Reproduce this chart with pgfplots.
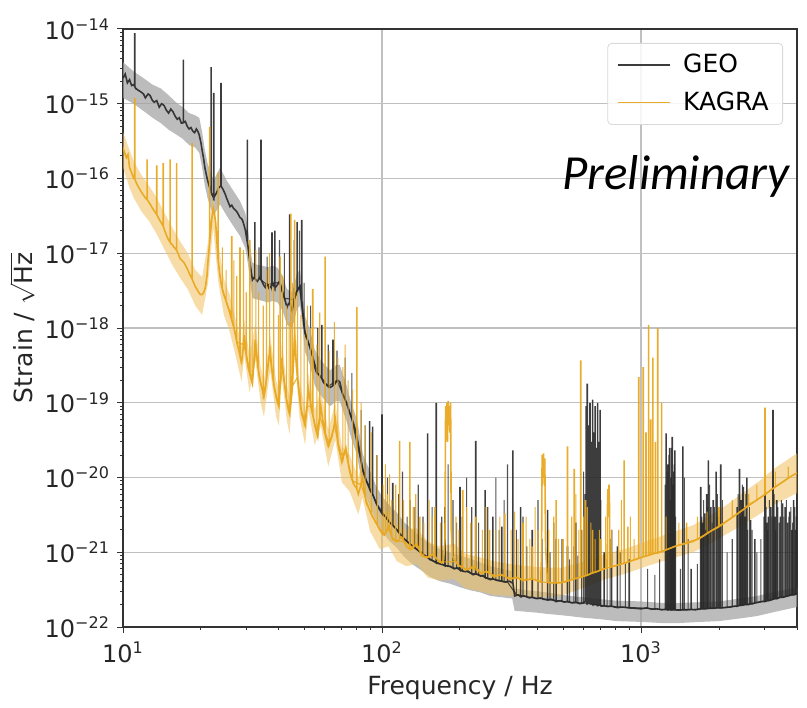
\documentclass[border=0pt]{standalone}
\usepackage{fontspec}
\setmainfont{DejaVu Sans}
\newfontfamily\carlito{Carlito}
\usepackage{pgfplots}
\pgfplotsset{compat=1.18}
\usepackage{pgfplotstable}
\usepgfplotslibrary{fillbetween}
\definecolor{geoline}{RGB}{40,40,40}
\definecolor{geoband}{RGB}{160,160,160}
\definecolor{kagline}{RGB}{232,168,32}
\definecolor{kagband}{RGB}{240,192,95}
\definecolor{gridc}{RGB}{192,192,192}

\pgfplotstableread{
f lo hi
10 1.2e-15 3.6e-15
11 1.0e-15 2.7e-15
12 8e-16 2.2e-15
13 6.5e-16 1.8e-15
14 5.5e-16 1.6e-15
15 4.5e-16 1.3e-15
16 3.9e-16 1.05e-15
17 3.4e-16 9e-16
18 2.8e-16 7.5e-16
19 2.6e-16 7e-16
19.7 2.2e-16 6.5e-16
20.2 1.4e-16 4.2e-16
20.7 8e-17 2.4e-16
21.2 5.5e-17 1.6e-16
21.8 4e-17 1.2e-16
22.4 3.2e-17 9.5e-17
23.7 4.5e-17 1.4e-16
25.1 3.2e-17 9.5e-17
26.7 2.3e-17 6.8e-17
28.3 1.7e-17 5e-17
29.7 1.15e-17 3.4e-17
30.4 7e-18 2e-17
31 4e-18 1.2e-17
31.6 2.5e-18 7.5e-18
33 2.4e-18 7e-18
34.6 2.3e-18 6.8e-18
36.2 2.2e-18 6.5e-18
37.8 2.3e-18 6.8e-18
39.5 2.2e-18 6.4e-18
41.3 1.7e-18 5e-18
43 1.1e-18 3.3e-18
45 1e-18 3e-18
47 1.8e-18 5.4e-18
48.2 2e-18 6e-18
49.2 1.1e-18 3.4e-18
50.4 4.8e-19 1.45e-18
52.7 3.2e-19 9.5e-19
55 1.7e-19 5.1e-19
58 1.25e-19 3.7e-19
63 9e-20 2.7e-19
66.5 1.05e-19 3.2e-19
68.7 1.05e-19 3.2e-19
73 5.6e-20 1.7e-19
76 3.4e-20 1e-19
80 2e-20 6e-20
84.5 7e-21 2e-20
90 4e-21 1.2e-20
95 2.6e-21 7.6e-21
100 1.9e-21 5.6e-21
107 1.4e-21 4.2e-21
114 1.15e-21 3.4e-21
122 8.6e-22 2.5e-21
131 6.9e-22 2e-21
141 5.8e-22 1.6e-21
153 4.7e-22 1.3e-21
167 4.1e-22 1.1e-21
183 3.8e-22 1e-21
200 3.4e-22 9e-22
219 3.1e-22 8.2e-22
240 2.9e-22 7.3e-22
262 2.6e-22 6.5e-22
290 2.5e-22 6e-22
318 2.4e-22 5.6e-22
325 1.65e-22 3.3e-22
360 1.6e-22 3.1e-22
400 1.55e-22 3e-22
432 1.5e-22 2.9e-22
480 1.45e-22 2.75e-22
530 1.4e-22 2.6e-22
600 1.33e-22 2.5e-22
700 1.27e-22 2.35e-22
800 1.2e-22 2.25e-22
1000 1.17e-22 2.2e-22
1200 1.13e-22 2.1e-22
1400 1.13e-22 2.1e-22
1700 1.17e-22 2.15e-22
2000 1.2e-22 2.2e-22
2400 1.3e-22 2.4e-22
2800 1.4e-22 2.6e-22
3300 1.6e-22 2.95e-22
4000 1.85e-22 3.4e-22
}\geoband

\pgfplotstableread{
f lo hi
10 1.4e-16 4.2e-16
10.6 7.5e-17 2.4e-16
11 5.5e-17 1.7e-16
11.8 3.6e-17 1.1e-16
12.6 2.7e-17 8e-17
13.5 1.8e-17 5.5e-17
14.5 1.1e-17 3.4e-17
15.5 7e-18 2.2e-17
16.6 4.7e-18 1.45e-17
17.8 3.3e-18 1e-17
19 2e-18 6e-18
20.2 1.5e-18 4.8e-18
21.3 4e-18 1.4e-17
22.3 2.2e-17 6.5e-17
23.3 4.3e-18 1.4e-17
24.5 1.5e-18 4.6e-18
25.8 9e-19 2.8e-18
27.2 4.3e-19 1.3e-18
28.7 1.9e-19 5.8e-19
29.4 4.3e-19 1.3e-18
30.8 1.35e-19 4.2e-19
32.4 3.8e-19 1.15e-18
34 1e-19 3e-19
35 6.5e-20 2e-19
37 2.7e-19 8e-19
39 6.5e-20 2e-19
40 4.9e-20 1.5e-19
41 2.2e-19 6.5e-19
43 5.5e-20 1.65e-19
44 3.8e-20 1.15e-19
46 4.3e-19 1.3e-18
48 6.5e-20 2e-19
50.5 2.7e-20 8e-20
52 8e-20 2.5e-19
55 2.7e-20 8e-20
58 4.9e-20 1.5e-19
62 1.4e-20 4.3e-20
66 3.2e-20 1e-19
70 8.6e-21 2.6e-20
75 6.5e-21 2e-20
81 3.2e-21 1e-20
84 5.4e-21 1.65e-20
90 1.9e-21 5.8e-21
98 1.1e-21 3.3e-21
106 1.2e-21 3.6e-21
114 7.6e-22 2.3e-21
124 6.5e-22 2e-21
136 7e-22 2.1e-21
150 4.6e-22 1.4e-21
166 4.2e-22 1.2e-21
190 4.4e-22 1.3e-21
210 3.3e-22 9.5e-22
240 3e-22 8.5e-22
270 2.7e-22 7.6e-22
310 2.6e-22 7e-22
350 2.5e-22 6.6e-22
410 2.5e-22 6.3e-22
490 2.6e-22 6.2e-22
580 3.2e-22 7.2e-22
720 4.3e-22 9.3e-22
875 5.2e-22 1.12e-21
1050 6.5e-22 1.4e-21
1350 8.5e-22 1.9e-21
1590 1e-21 2.3e-21
1850 1.3e-21 3.1e-21
2140 1.75e-21 4.3e-21
2500 2.4e-21 6.4e-21
2890 3.3e-21 9.2e-21
3300 4.4e-21 1.35e-20
4000 6.2e-21 2.1e-20
}\kagband

\pgfplotstableread{
f y
10 2.2e-15
10.2 2.5e-15
10.4 1.9e-15
10.6 2.1e-15
10.8 1.75e-15
11.0 1.8e-15
11.1 1.7e-15
11.1 8.8e-15
11.1 1.7e-15
11.2 1.6e-15
11.5 1.5e-15
11.7 1.45e-15
12.0 1.35e-15
12.2 1.2e-15
12.5 1.35e-15
12.7 1.3e-15
13.0 1.1e-15
13.2 1.05e-15
13.5 1.1e-15
13.8 9e-16
14.1 1.0e-15
14.4 9.5e-16
14.7 8.2e-16
15.0 7.5e-16
15.3 8.5e-16
15.6 7.8e-16
15.9 6.8e-16
16.2 6.2e-16
16.5 6.5e-16
16.8 5.5e-16
17.1 5.6e-16
17.1 3.9e-15
17.1 5.6e-16
17.4 5.8e-16
17.7 5e-16
18.0 4.6e-16
18.3 4.8e-16
18.6 4.3e-16
18.9 4.1e-16
19.2 4.6e-16
19.5 4.2e-16
19.7 3.8e-16
20.0 3e-16
20.2 2.4e-16
20.5 1.8e-16
20.7 1.4e-16
21.0 1.1e-16
21.2 9.5e-17
21.5 8e-17
21.8 7e-17
21.9 7e-17
21.9 3.1e-15
21.9 6.5e-17
22.1 6e-17
22.4 5.5e-17
22.4 1.4e-15
22.4 5.5e-17
22.7 6e-17
23.0 6.5e-17
23.4 7.5e-17
23.9 8e-17
23.9 1.9e-15
23.9 8e-17
24.4 7e-17
24.8 6.2e-17
25.1 5.5e-17
25.5 4.8e-17
25.9 4.2e-17
26.3 4.4e-17
26.7 4e-17
27.1 3.8e-17
27.5 3.6e-17
27.9 3.3e-17
28.3 3e-17
28.7 2.9e-17
29.0 2.7e-17
29.4 2.3e-17
29.7 2e-17
30.0 1.6e-17
30.2 1.4e-17
30.2 3.3e-16
30.2 1.4e-17
30.4 1.2e-17
30.7 9e-18
31.0 7e-18
31.3 5.5e-18
31.6 4.4e-18
32.0 4.7e-18
32.3 4.6e-18
32.3 2.6e-17
32.3 4.6e-18
32.6 4.4e-18
33.0 4.2e-18
33.4 4.5e-18
33.8 4.8e-18
34.1 4.5e-18
34.1 3.3e-16
34.1 4.5e-18
34.6 4e-18
35.0 3.7e-18
35.4 3.5e-18
35.8 3.9e-18
36.2 3.8e-18
36.6 3.4e-18
37.0 3.5e-18
37.6 3.8e-18
37.6 1.9e-17
37.6 3.8e-18
37.8 4.1e-18
38.2 3.7e-18
38.6 3.4e-18
38.6 2e-17
38.6 3.4e-18
39.0 3.6e-18
39.5 3.8e-18
40.0 4.1e-18
40.4 4e-18
40.8 3.5e-18
41.3 3e-18
41.7 2.7e-18
42.2 2.4e-18
42.6 2.1e-18
43.0 1.9e-18
43.5 2.1e-18
44.0 2.2e-18
44.0 3.3e-17
44.0 2.2e-18
44.5 1.9e-18
45.0 1.7e-18
45.5 2.1e-18
46.0 2.5e-18
46.5 2.9e-18
47.0 3.2e-18
47.0 2.6e-17
47.0 3.2e-18
47.6 3.4e-18
48.2 3.6e-18
48.7 2.8e-18
49.0 2.4e-18
49.0 2.8e-17
49.0 2.4e-18
49.2 2e-18
49.8 1.3e-18
50.4 8.5e-19
51.0 7.5e-19
51.5 7e-19
52.1 6.2e-19
52.7 5.6e-19
53.3 4.8e-19
54.0 4.2e-19
54.5 3.6e-19
55.0 3e-19
55.5 2.7e-19
56.0 2.5e-19
57.0 2.4e-19
58.0 2.2e-19
58.6 2.1e-19
58.6 1.1e-18
58.6 2.1e-19
59.3 1.9e-19
60.0 1.8e-19
61.5 1.7e-19
63.0 1.6e-19
64.0 1.65e-19
64.7 1.7e-19
64.7 7e-19
64.7 1.7e-19
65.5 1.75e-19
66.5 1.9e-19
67.5 2e-19
68.7 1.9e-19
69.5 1.6e-19
70.5 1.3e-19
71.7 1.15e-19
73.0 1e-19
74.5 8e-20
76.0 6.5e-20
78.0 5e-20
80.0 3.5e-20
82.0 2.2e-20
84.5 1.2e-20
87.0 9e-21
89.6 7e-21
89.6 5.7e-20
89.6 7e-21
92.0 6e-21
92.0 4.8e-20
92.0 6e-21
95.0 4.5e-21
97.5 3.8e-21
100.0 3.3e-21
100.0 7e-20
100.0 3.3e-21
103 3e-21
107 2.5e-21
110 2.3e-21
110 8.5e-21
110 2.3e-21
114 2e-21
118 1.7e-21
122 1.5e-21
126 1.35e-21
128 1.3e-21
128 5e-21
128 1.3e-21
131 1.2e-21
136 1.1e-21
141 1e-21
146 9e-22
150 8.5e-22
150 3.9e-20
150 8.5e-22
153 8e-22
158 7.6e-22
162 7.2e-22
162 1e-19
162 7.2e-22
167 7e-22
172 6.8e-22
175 6.6e-22
175 4e-21
175 6.6e-22
183 6.5e-22
190 6e-22
196 6.2e-22
200 5.8e-22
200 7.5e-21
200 5.8e-22
208 5.5e-22
215 5.6e-22
219 5.3e-22
225 5e-22
230 5.2e-22
230 3.1e-20
230 5.2e-22
240 4.8e-22
245 4.9e-22
250 4.6e-22
250 6.8e-21
250 4.6e-22
262 4.3e-22
268 4.4e-22
268 3e-21
268 4.4e-22
278 4.2e-22
290 4.1e-22
290 2.2e-21
290 4.1e-22
300 4e-22
310 4.1e-22
318 3.9e-22
320 3.9e-22
320 2.3e-20
320 3.9e-22
325 2.6e-22
335 2.7e-22
343 2.55e-22
343 4e-21
343 2.55e-22
355 2.6e-22
370 2.45e-22
380 2.5e-22
380 2e-21
380 2.5e-22
395 2.4e-22
410 2.45e-22
420 2.35e-22
436 2.3e-22
436 3.7e-21
436 2.3e-22
450 2.35e-22
470 2.2e-22
470 1.5e-21
470 2.2e-22
490 2.25e-22
505 2.15e-22
520 2.2e-22
520 1.2e-21
520 2.2e-22
540 2.1e-22
560 2.15e-22
560 2.5e-21
560 2.15e-22
580 2.05e-22
600 2.1e-22
608 2.2e-22
608 6e-21
608 2.2e-22
614 2.2e-22
614 9e-20
614 2.2e-22
620 2.1e-22
620 1.8e-19
620 2.1e-22
627 2.2e-22
627 5e-20
627 2.2e-22
635 2.1e-22
635 1e-19
635 2.1e-22
642 2.1e-22
642 3e-20
642 2.1e-22
650 2e-22
650 1.1e-19
650 2e-22
657 2e-22
657 4e-20
657 2e-22
665 2e-22
665 9e-20
665 2e-22
672 2e-22
672 2.5e-20
672 2e-22
680 1.95e-22
680 1e-19
680 1.95e-22
688 2e-22
688 3e-20
688 2e-22
695 1.95e-22
695 8e-20
695 1.95e-22
705 1.9e-22
720 1.92e-22
720 1e-21
720 1.92e-22
745 1.88e-22
770 1.9e-22
770 2e-21
770 1.9e-22
790 1.85e-22
810 1.82e-22
810 1.2e-21
810 1.82e-22
850 1.85e-22
900 1.8e-22
900 8e-22
900 1.8e-22
950 1.78e-22
1000 1.75e-22
1050 1.8e-22
1100 1.73e-22
1150 1.75e-22
1200 1.7e-22
1250 1.72e-22
1250 3.9e-20
1250 1.72e-22
1270 1.7e-22
1270 1.5e-20
1270 1.7e-22
1290 1.72e-22
1290 2.5e-20
1290 1.72e-22
1305 1.7e-22
1305 1e-20
1305 1.7e-22
1320 1.7e-22
1320 3.5e-20
1320 1.7e-22
1335 1.7e-22
1335 1.2e-20
1335 1.7e-22
1350 1.7e-22
1350 2.3e-20
1350 1.7e-22
1400 1.68e-22
1450 1.7e-22
1450 2.6e-20
1450 1.7e-22
1500 1.7e-22
1560 1.72e-22
1560 6e-22
1560 1.72e-22
1620 1.7e-22
1700 1.75e-22
1700 7.5e-21
1700 1.75e-22
1730 1.75e-22
1730 2.5e-21
1730 1.75e-22
1760 1.75e-22
1760 3.3e-21
1760 1.75e-22
1790 1.76e-22
1790 6e-21
1790 1.76e-22
1820 1.77e-22
1820 1.7e-20
1820 1.77e-22
1860 1.78e-22
1860 4e-21
1860 1.78e-22
1900 1.78e-22
1900 5e-21
1900 1.78e-22
1950 1.8e-22
1950 1.2e-20
1950 1.8e-22
1990 1.8e-22
1990 3e-21
1990 1.8e-22
2030 1.8e-22
2030 1.5e-20
2030 1.8e-22
2100 1.82e-22
2200 1.85e-22
2300 1.9e-22
2350 1.9e-22
2350 4e-21
2350 1.9e-22
2400 1.95e-22
2400 1.3e-20
2400 1.95e-22
2440 1.95e-22
2440 5e-21
2440 1.95e-22
2480 1.97e-22
2480 7.5e-21
2480 1.97e-22
2520 2e-22
2520 3e-21
2520 2e-22
2560 2e-22
2560 1e-20
2560 2e-22
2600 2e-22
2650 2.05e-22
2650 2.7e-21
2650 2.05e-22
2700 2.05e-22
2750 2.1e-22
2750 1.5e-21
2750 2.1e-22
2850 2.15e-22
2950 2.2e-22
3010 2.2e-22
3010 6e-21
3010 2.2e-22
3060 2.25e-22
3060 2.5e-21
3060 2.25e-22
3100 2.25e-22
3100 3e-21
3100 2.25e-22
3170 2.3e-22
3170 4e-21
3170 2.3e-22
3230 2.35e-22
3230 8e-20
3230 2.35e-22
3290 2.4e-22
3290 3e-21
3290 2.4e-22
3340 2.4e-22
3340 5e-21
3340 2.4e-22
3400 2.45e-22
3450 2.5e-22
3450 3e-21
3450 2.5e-22
3520 2.5e-22
3520 4.5e-21
3520 2.5e-22
3600 2.55e-22
3600 4e-21
3600 2.55e-22
3680 2.6e-22
3680 2.5e-21
3680 2.6e-22
3750 2.65e-22
3750 3.5e-21
3750 2.65e-22
3820 2.7e-22
3820 2e-21
3820 2.7e-22
3880 2.7e-22
3880 5e-21
3880 2.7e-22
3950 2.75e-22
3950 2e-21
3950 2.75e-22
4000 2.8e-22
}\geoline

\pgfplotstableread{
f y
10 2.6e-16
10.15 2.2e-16
10.3 1.9e-16
10.45 2.1e-16
10.6 1.4e-16
10.8 1.2e-16
11.0 1.0e-16
11.1 1e-16
11.1 1.2e-15
11.1 1e-16
11.25 8.8e-17
11.4 8e-17
11.6 7.2e-17
11.8 6.5e-17
12.0 6e-17
12.2 5.5e-17
12.4 5.2e-17
12.4 1.8e-16
12.4 5.2e-17
12.6 4.8e-17
12.8 4.4e-17
13.0 4e-17
13.25 3.6e-17
13.5 3.3e-17
13.5 1.5e-16
13.5 3.3e-17
13.75 2.9e-17
14.0 2.6e-17
14.3 2.3e-17
14.3 1.6e-16
14.3 2.3e-17
14.5 2e-17
14.75 1.7e-17
15.0 1.5e-17
15.2 1.4e-17
15.2 1.8e-16
15.2 1.4e-17
15.5 1.3e-17
15.75 1.2e-17
16.1 1.1e-17
16.1 1.6e-16
16.1 1.1e-17
16.3 1e-17
16.6 8.5e-18
16.9 8e-18
17.2 7.5e-18
17.5 6.7e-18
17.8 6e-18
18.1 5.2e-18
18.5 4.5e-18
18.5 3e-16
18.5 4.5e-18
18.7 4.1e-18
19.0 3.6e-18
19.3 3.3e-18
19.6 3e-18
19.9 2.8e-18
20.2 2.8e-18
20.5 3e-18
20.8 3.5e-18
21.1 5e-18
21.3 8e-18
21.6 1.4e-17
21.6 4.9e-16
21.6 1.4e-17
21.8 2e-17
22.05 3e-17
22.3 4e-17
22.55 3.4e-17
22.8 2.5e-17
23.05 1.4e-17
23.3 8e-18
23.3 1.2e-16
23.3 8e-18
23.6 5.5e-18
23.9 4e-18
24.2 3.3e-18
24.5 2.8e-18
24.8 2.5e-18
25.1 2.2e-18
25.45 1.9e-18
25.8 1.7e-18
26.15 1.4e-18
26.3 1.3e-18
26.3 1.7e-17
26.3 1.3e-18
26.5 1.2e-18
26.85 1e-18
27.2 8e-19
27.6 6.2e-19
28.0 5e-19
28.3 4.2e-19
28.3 1.2e-17
28.3 4.2e-19
28.7 3.5e-19
29.05 5e-19
29.4 8e-19
29.7 5.5e-19
30.0 4e-19
30.4 3e-19
30.8 2.5e-19
30.9 2.4e-19
30.9 1.5e-17
30.9 2.4e-19
31.2 2.1e-19
31.6 1.8e-19
32.0 3.5e-19
32.4 7e-19
32.8 4.5e-19
33.2 3e-19
33.6 2.2e-19
34.0 1.8e-19
34.5 1.5e-19
35.0 1.2e-19
35.5 1.6e-19
36.0 2.5e-19
36.5 3.8e-19
37.0 5e-19
37.5 3e-19
38.0 2e-19
38.5 1.5e-19
39.0 1.2e-19
39.5 1e-19
40.0 9e-20
40.4 2e-19
40.4 9e-18
40.4 2e-19
41.0 4e-19
41.5 2.6e-19
42.0 1.8e-19
42.5 1.3e-19
43.0 1e-19
43.5 8e-20
44.0 7e-20
44.5 1e-19
44.5 3.4e-17
44.5 1e-19
45.0 1.5e-19
45.5 3.5e-19
46.0 8e-19
46.0 2.8e-17
46.0 8e-19
46.5 4e-19
47.0 2.5e-19
47.5 1.7e-19
48.0 1.2e-19
48.5 9e-20
49.0 7e-20
49.7 6e-20
50.5 5e-20
51.2 8e-20
52.0 1.5e-19
52.7 1.1e-19
53.5 8e-20
54.0 7e-20
54.0 3.3e-18
54.0 7e-20
54.5 6e-20
55.0 5e-20
55.7 4.2e-20
56.5 3.5e-20
57.2 5.5e-20
58.0 9e-20
59.0 6e-20
60.0 4e-20
60.3 3.8e-20
60.3 9e-18
60.3 3.8e-20
61.0 3.2e-20
62.0 2.6e-20
63.0 3e-20
64.0 3.5e-20
65.0 4.5e-20
66.0 6e-20
67.0 3.8e-20
68.0 2.5e-20
69.0 2e-20
70.0 1.6e-20
71.2 2e-20
72.5 2.5e-20
73.7 1.7e-20
75.0 1.2e-20
76.5 9.5e-21
78.0 8e-21
80.0 7e-21
80.0 1.9e-18
80.0 7e-21
81.0 6e-21
82.5 7.5e-21
84.0 1e-20
85.5 6.5e-21
87.0 4.5e-21
88.5 4e-21
90.0 3.5e-21
92.0 3e-21
94.0 2.6e-21
96.0 2.3e-21
98.0 2e-21
100.0 1.8e-21
102.0 1.7e-21
104 1.9e-21
106 2.2e-21
108 1.8e-21
110 1.5e-21
112 1.45e-21
114 1.4e-21
117 1.5e-21
117 3.1e-20
117 1.5e-21
119 1.6e-21
121.5 1.4e-21
124 1.2e-21
126 1.15e-21
128 1.1e-21
128 3e-20
128 1.1e-21
130 1.1e-21
133 1.2e-21
136 1.3e-21
139 1.1e-21
140 1.05e-21
140 3e-21
140 1.05e-21
142 9e-22
146 8.7e-22
150 8.5e-22
154 9e-22
158 9.5e-22
160 9e-22
160 4e-21
160 9e-22
162 8.3e-22
166 7.5e-22
170 7.2e-22
173 8e-22
175 1.5e-21
176 9e-20
177 4e-20
178 1e-19
179 3e-20
180 1.06e-19
181 5e-20
182 9e-20
183 4e-20
184 1e-19
185 2e-21
187 9e-22
190 8e-22
195 7e-22
200 6.5e-22
205 6.2e-22
205 6.8e-21
205 6.2e-22
210 5.8e-22
217 6e-22
225 6.5e-22
230 6.2e-22
230 3e-21
230 6.2e-22
235 5.8e-22
240 5.2e-22
247 5.4e-22
255 5.5e-22
260 5.3e-22
260 2e-21
260 5.3e-22
265 5e-22
270 4.7e-22
280 4.9e-22
290 5e-22
298 4.8e-22
298 3.3e-21
298 4.8e-22
304 4.6e-22
310 4.4e-22
320 4.5e-22
330 4.6e-22
340 4.4e-22
350 4.2e-22
350 2.5e-21
350 4.2e-22
365 4.3e-22
380 4.4e-22
380 1.2e-21
380 4.4e-22
395 4.2e-22
410 4e-22
413 1e-21
415 2e-20
417 8e-21
420 2.1e-20
422 1e-20
425 1.8e-20
428 1.2e-21
435 4e-22
450 3.9e-22
470 3.9e-22
470 5e-21
470 3.9e-22
490 3.9e-22
500 3.95e-22
500 1.5e-21
500 3.95e-22
510 4e-22
520 4.1e-22
520 2.6e-20
520 4.1e-22
530 4.2e-22
552 4.4e-22
552 1.3e-20
552 4.4e-22
565 4.5e-22
580 4.6e-22
585 4.65e-22
585 3.7e-19
585 4.65e-22
595 4.7e-22
610 4.85e-22
610 5e-21
610 4.85e-22
630 5.05e-22
650 5.3e-22
650 2e-21
650 5.3e-22
675 5.5e-22
700 5.8e-22
700 1.5e-21
700 5.8e-22
720 6e-22
740 6.2e-22
742 4e-21
745 7e-21
748 3e-21
752 8e-21
755 5e-21
758 6.3e-22
780 6.5e-22
800 6.6e-22
830 6.9e-22
860 7.1e-22
860 1.7e-20
860 7.1e-22
875 7.2e-22
890 7.4e-22
890 2.2e-21
890 7.4e-22
920 7.7e-22
950 8e-22
980 8.3e-22
980 2.2e-19
980 8.3e-22
1000 8.5e-22
1020 8.7e-22
1020 3e-19
1020 8.7e-22
1045 8.9e-22
1045 4e-20
1045 8.9e-22
1070 9.1e-22
1070 1.1e-18
1070 9.1e-22
1090 9.3e-22
1090 6e-20
1090 9.3e-22
1110 9.5e-22
1110 4e-19
1110 9.5e-22
1135 9.7e-22
1135 3e-20
1135 9.7e-22
1160 9.8e-22
1160 1e-18
1160 9.8e-22
1180 1e-21
1200 1.02e-21
1200 1e-19
1200 1.02e-21
1270 1.1e-21
1350 1.2e-21
1450 1.28e-21
1500 1.32e-21
1500 2.5e-21
1500 1.32e-21
1590 1.4e-21
1720 1.6e-21
1850 1.9e-21
2000 2.2e-21
2000 4e-21
2000 2.2e-21
2140 2.6e-21
2300 3.1e-21
2500 3.8e-21
2600 4.3e-21
2600 6e-21
2600 4.3e-21
2750 4.8e-21
2890 5.4e-21
3010 5.9e-21
3010 8.6e-20
3010 5.9e-21
3150 6.7e-21
3300 7.5e-21
3500 8.6e-21
3700 9.8e-21
3900 1.1e-20
4000 1.15e-20
}\kagline

\begin{document}
\begin{tikzpicture}
\begin{axis}[
  name=ax,
  xmode=log, ymode=log,
  scale only axis, width=337pt, height=299pt,
  xmin=10, xmax=4000, ymin=1e-22, ymax=1e-14,
  axis line style={color=black!80, line width=0.6pt},
  tick pos=left, tick align=outside,
  major tick length=3pt, minor tick length=1.6pt,
  tick style={color=black!80, line width=0.5pt},
  xtick={10,100,1000},
  xticklabels={10\textsuperscript{1},10\textsuperscript{2},10\textsuperscript{3}},
  minor xtick={20,30,40,50,60,70,80,90,200,300,400,500,600,700,800,900,2000,3000,4000},
  ytick={1e-22,1e-21,1e-20,1e-19,1e-18,1e-17,1e-16,1e-15,1e-14},
  yticklabels={10\textsuperscript{−22},10\textsuperscript{−21},10\textsuperscript{−20},10\textsuperscript{−19},10\textsuperscript{−18},10\textsuperscript{−17},10\textsuperscript{−16},10\textsuperscript{−15},10\textsuperscript{−14}},
  minor ytick={2e-22,3e-22,4e-22,5e-22,6e-22,7e-22,8e-22,9e-22,
    2e-21,3e-21,4e-21,5e-21,6e-21,7e-21,8e-21,9e-21,
    2e-20,3e-20,4e-20,5e-20,6e-20,7e-20,8e-20,9e-20,
    2e-19,3e-19,4e-19,5e-19,6e-19,7e-19,8e-19,9e-19,
    2e-18,3e-18,4e-18,5e-18,6e-18,7e-18,8e-18,9e-18,
    2e-17,3e-17,4e-17,5e-17,6e-17,7e-17,8e-17,9e-17,
    2e-16,3e-16,4e-16,5e-16,6e-16,7e-16,8e-16,9e-16,
    2e-15,3e-15,4e-15,5e-15,6e-15,7e-15,8e-15,9e-15},
  xmajorgrids, ymajorgrids,
  major grid style={color=gridc, line width=0.7pt},
  ticklabel style={font=\fontsize{12}{14}\selectfont, text=black!85},
  xticklabel style={yshift=-1pt},
  xlabel={Frequency / Hz},
  ylabel={Strain / $\sqrt{\hbox{Hz}}$},
  ylabel shift=1.2pt,
  ylabel style={inner sep=0pt},
  label style={font=\fontsize{12.5}{15}\selectfont, text=black!85},
  legend style={at={(1,1)}, anchor=north east, xshift=-7pt, yshift=-7pt,
    draw=black!15, rounded corners=2pt, fill=white, fill opacity=0.85, text opacity=1,
    font=\fontsize{12.5}{14}\selectfont, inner xsep=5pt, inner ysep=3.5pt, row sep=4pt,
    /tikz/every odd column/.append style={column sep=4pt}},
  legend cell align=left,
  legend image code/.code={\draw[#1, line width=0.7pt] (0pt,0pt) -- (26pt,0pt);},
]
\addplot[name path=gu, draw=none, forget plot] table[x=f, y=hi]{\geoband};
\addplot[name path=gl, draw=none, forget plot] table[x=f, y=lo]{\geoband};
\addplot[geoband, fill opacity=0.7, draw=none, forget plot] fill between[of=gu and gl];
\addplot[name path=ku, draw=none, forget plot] table[x=f, y=hi]{\kagband};
\addplot[name path=kl, draw=none, forget plot] table[x=f, y=lo]{\kagband};
\addplot[kagband, fill opacity=0.55, draw=none, forget plot] fill between[of=ku and kl];
% extra GEO line features (narrow lines)
\addplot[geoline, line width=0.55pt, opacity=0.8, forget plot] coordinates {
(33.5,4.6e-18)(33.5,1.2e-17)(33.5,4.6e-18) (36,3.8e-18)(36,9e-18)(36,3.8e-18)
(40.2,4.1e-18)(40.2,1.5e-17)(40.2,4.1e-18) (42,2.5e-18)(42,1e-17)(42,2.5e-18)
(45.8,2.4e-18)(45.8,1.5e-17)(45.8,2.4e-18) (48,3.6e-18)(48,2e-17)(48,3.6e-18)
(50,1e-18)(50,4e-18)(50,1e-18) (53,5e-19)(53,2e-18)(53,5e-19)
(56.5,2.5e-19)(56.5,1e-18)(56.5,2.5e-19) (62,1.65e-19)(62,6e-19)(62,1.65e-19)
(67,2e-19)(67,5e-19)(67,2e-19) (72,1.1e-19)(72,4e-19)(72,1.1e-19)
(76.5,6e-20)(76.5,2.5e-19)(76.5,6e-20) (83,1.6e-20)(83,8e-20)(83,1.6e-20)
(86,1e-20)(86,5e-20)(86,1e-20) (95.5,4.4e-21)(95.5,2e-20)(95.5,4.4e-21)
(105,2.7e-21)(105,1e-20)(105,2.7e-21) (116,1.9e-21)(116,6e-21)(116,1.9e-21)
(120,1.6e-21)(120,1.2e-20)(120,1.6e-21) (125,1.4e-21)(125,3e-21)(125,1.4e-21)
(134,1.15e-21)(134,4e-21)(134,1.15e-21) (138,1.05e-21)(138,8e-21)(138,1.05e-21)
(144,9.5e-22)(144,3e-21)(144,9.5e-22) (156,7.8e-22)(156,4e-21)(156,7.8e-22)
(170,6.9e-22)(170,3e-21)(170,6.9e-22) (180,6.5e-22)(180,1.5e-20)(180,6.5e-22)
(188,6.2e-22)(188,5e-21)(188,6.2e-22) (194,6.1e-22)(194,2.5e-21)(194,6.1e-22)
(204,5.6e-22)(204,3e-21)(204,5.6e-22) (212,5.5e-22)(212,1e-20)(212,5.5e-22)
(222,5.2e-22)(222,4e-21)(222,5.2e-22) (236,5e-22)(236,2.5e-21)(236,5e-22)
(256,4.5e-22)(256,4e-21)(256,4.5e-22) (275,4.3e-22)(275,1e-20)(275,4.3e-22)
(283,4.2e-22)(283,2e-21)(283,4.2e-22) (296,4e-22)(296,5e-21)(296,4e-22)
(305,4e-22)(305,1.5e-20)(305,4e-22) (330,2.7e-22)(330,2e-21)(330,2.7e-22)
(350,2.6e-22)(350,3e-21)(350,2.6e-22) (362,2.55e-22)(362,1.2e-21)(362,2.55e-22)
(400,2.4e-22)(400,5e-21)(400,2.4e-22) (415,2.4e-22)(415,1.5e-21)(415,2.4e-22)
(445,2.3e-22)(445,1e-21)(445,2.3e-22) (460,2.3e-22)(460,2.5e-21)(460,2.3e-22)
(495,2.2e-22)(495,1.5e-21)(495,2.2e-22) (530,2.15e-22)(530,8e-22)(530,2.15e-22)
(550,2.1e-22)(550,1.2e-21)(550,2.1e-22) (570,2.1e-22)(570,9e-22)(570,2.1e-22)
(590,2.1e-22)(590,2e-21)(590,2.1e-22) (600,2.1e-22)(600,1.2e-20)(600,2.1e-22)
(700,1.95e-22)(700,5e-21)(700,1.95e-22) (740,1.9e-22)(740,8e-22)(740,1.9e-22)
(760,1.9e-22)(760,1.5e-21)(760,1.9e-22) (830,1.84e-22)(830,1e-21)(830,1.84e-22)
(870,1.83e-22)(870,7e-22)(870,1.83e-22) (1060,1.78e-22)(1060,6e-22)(1060,1.78e-22)
(1130,1.74e-22)(1130,5e-22)(1130,1.74e-22) (1180,1.72e-22)(1180,8e-22)(1180,1.72e-22)
(1240,1.72e-22)(1240,8e-21)(1240,1.72e-22) (1260,1.7e-22)(1260,1.2e-20)(1260,1.7e-22)
(1280,1.7e-22)(1280,2e-20)(1280,1.7e-22) (1298,1.7e-22)(1298,5e-21)(1298,1.7e-22)
(1312,1.7e-22)(1312,2.5e-20)(1312,1.7e-22) (1328,1.7e-22)(1328,8e-21)(1328,1.7e-22)
(1343,1.7e-22)(1343,1.5e-20)(1343,1.7e-22) (1360,1.7e-22)(1360,3e-21)(1360,1.7e-22)
(1420,1.7e-22)(1420,6e-22)(1420,1.7e-22) (1470,1.7e-22)(1470,1e-20)(1470,1.7e-22)
(1520,1.7e-22)(1520,1.5e-21)(1520,1.7e-22) (1650,1.72e-22)(1650,7e-22)(1650,1.72e-22)
(1715,1.75e-22)(1715,3e-21)(1715,1.75e-22) (1745,1.75e-22)(1745,5e-21)(1745,1.75e-22)
(1775,1.76e-22)(1775,2e-21)(1775,1.76e-22) (1805,1.77e-22)(1805,4e-21)(1805,1.77e-22)
(1840,1.78e-22)(1840,8e-21)(1840,1.78e-22) (1880,1.78e-22)(1880,2.5e-21)(1880,1.78e-22)
(1920,1.79e-22)(1920,4e-21)(1920,1.79e-22) (1970,1.8e-22)(1970,6e-21)(1970,1.8e-22)
(2010,1.8e-22)(2010,3e-21)(2010,1.8e-22) (2060,1.81e-22)(2060,5e-21)(2060,1.81e-22)
(2150,1.83e-22)(2150,1e-21)(2150,1.83e-22) (2250,1.87e-22)(2250,1.5e-21)(2250,1.87e-22)
(2370,1.92e-22)(2370,6e-21)(2370,1.92e-22) (2420,1.95e-22)(2420,3e-21)(2420,1.95e-22)
(2460,1.96e-22)(2460,8e-21)(2460,1.96e-22) (2500,1.98e-22)(2500,4e-21)(2500,1.98e-22)
(2540,2e-22)(2540,6e-21)(2540,2e-22) (2580,2e-22)(2580,2e-21)(2580,2e-22)
(2620,2.02e-22)(2620,4e-21)(2620,2.02e-22) (2680,2.05e-22)(2680,2e-21)(2680,2.05e-22)
(2800,2.12e-22)(2800,1e-21)(2800,2.12e-22) (2900,2.18e-22)(2900,1.5e-21)(2900,2.18e-22)
(2980,2.2e-22)(2980,3e-21)(2980,2.2e-22) (3040,2.22e-22)(3040,4e-21)(3040,2.22e-22)
(3080,2.25e-22)(3080,2e-21)(3080,2.25e-22) (3130,2.28e-22)(3130,5e-21)(3130,2.28e-22)
(3200,2.32e-22)(3200,3e-21)(3200,2.32e-22) (3260,2.38e-22)(3260,6e-21)(3260,2.38e-22)
(3310,2.4e-22)(3310,2e-21)(3310,2.4e-22) (3370,2.42e-22)(3370,4e-21)(3370,2.42e-22)
(3420,2.48e-22)(3420,2.5e-21)(3420,2.48e-22) (3480,2.5e-22)(3480,5e-21)(3480,2.5e-22)
(3560,2.52e-22)(3560,3e-21)(3560,2.52e-22) (3640,2.58e-22)(3640,5e-21)(3640,2.58e-22)
(3720,2.62e-22)(3720,3e-21)(3720,2.62e-22) (3790,2.68e-22)(3790,4e-21)(3790,2.68e-22)
(3850,2.7e-22)(3850,2.5e-21)(3850,2.7e-22) (3920,2.72e-22)(3920,4e-21)(3920,2.72e-22)
(3980,2.78e-22)(3980,3e-21)(3980,2.78e-22)
};
\addplot[geoline, line width=0.8pt, opacity=0.9] table[x=f, y=y]{\geoline};
\addlegendentry{GEO}
% extra KAGRA line features
\addplot[kagline, line width=0.55pt, opacity=0.9, forget plot] coordinates {
(24.2,3.3e-18)(24.2,1.2e-17)(24.2,3.3e-18) (25,2.3e-18)(25,6e-18)(25,2.3e-18)
(26.8,1e-18)(26.8,8e-18)(26.8,1e-18) (27.5,6.5e-19)(27.5,5e-18)(27.5,6.5e-19)
(29.2,6e-19)(29.2,1.1e-17)(29.2,6e-19) (29.9,4.5e-19)(29.9,3e-18)(29.9,4.5e-19)
(31.5,1.9e-19)(31.5,4e-18)(31.5,1.9e-19) (32.6,5e-19)(32.6,1.1e-17)(32.6,5e-19)
(33.4,2.6e-19)(33.4,3e-18)(33.4,2.6e-19) (34.8,1.3e-19)(34.8,2e-18)(34.8,1.3e-19)
(35.8,2e-19)(35.8,6e-18)(35.8,2e-19) (36.8,4.5e-19)(36.8,1e-17)(36.8,4.5e-19)
(38.2,1.8e-19)(38.2,3.5e-18)(38.2,1.8e-19) (39.8,9.5e-20)(39.8,1.5e-18)(39.8,9.5e-20)
(41.3,3e-19)(41.3,5e-18)(41.3,3e-19) (42.8,1.1e-19)(42.8,2e-18)(42.8,1.1e-19)
(43.8,7.5e-20)(43.8,1.2e-18)(43.8,7.5e-20) (45.2,1.7e-19)(45.2,4e-18)(45.2,1.7e-19)
(47.2,2.2e-19)(47.2,3e-18)(47.2,2.2e-19) (48.6,8.8e-20)(48.6,1.5e-18)(48.6,8.8e-20)
(50,5.5e-20)(50,8e-19)(50,5.5e-20) (51.5,9e-20)(51.5,2e-18)(51.5,9e-20)
(53,9e-20)(53,1e-18)(53,9e-20) (56,4e-20)(56,6e-19)(56,4e-20)
(57.5,6.5e-20)(57.5,1.6e-18)(57.5,6.5e-20) (62.5,2.8e-20)(62.5,5e-19)(62.5,2.8e-20)
(65.5,5e-20)(65.5,1.2e-18)(65.5,5e-20) (67.5,3e-20)(67.5,4e-19)(67.5,3e-20)
(70.6,1.8e-20)(70.6,3e-19)(70.6,1.8e-20) (72,2.3e-20)(72,6e-19)(72,2.3e-20)
(74,1.6e-20)(74,2e-19)(74,1.6e-20) (77,9e-21)(77,1.5e-19)(77,9e-21)
(83,8e-21)(83,1e-19)(83,8e-21) (86,5.5e-21)(86,5e-20)(86,5.5e-21)
(91,3.2e-21)(91,4e-20)(91,3.2e-21) (96,2.3e-21)(96,2e-20)(96,2.3e-21)
(101,1.75e-21)(101,8e-21)(101,1.75e-21) (103,1.8e-21)(103,1.5e-20)(103,1.8e-21)
(105,2e-21)(105,6e-21)(105,2e-21) (107,2e-21)(107,1.1e-20)(107,2e-21)
(109,1.6e-21)(109,5e-21)(109,1.6e-21) (113,1.4e-21)(113,8e-21)(113,1.4e-21)
(121,1.4e-21)(121,5e-21)(121,1.4e-21) (132,1.15e-21)(132,4e-21)(132,1.15e-21)
(135,1.25e-21)(135,6e-21)(135,1.25e-21) (145,8.8e-22)(145,2.5e-21)(145,8.8e-22)
(152,8.7e-22)(152,5e-21)(152,8.7e-22) (156,9.3e-22)(156,3e-21)(156,9.3e-22)
(168,7.4e-22)(168,2.5e-21)(168,7.4e-22) (193,7.5e-22)(193,3e-21)(193,7.5e-22)
(198,6.7e-22)(198,2e-21)(198,6.7e-22) (212,5.9e-22)(212,4e-21)(212,5.9e-22)
(220,6.2e-22)(220,2.5e-21)(220,6.2e-22) (244,5.3e-22)(244,2e-21)(244,5.3e-22)
(252,5.5e-22)(252,4e-21)(252,5.5e-22) (275,4.8e-22)(275,2e-21)(275,4.8e-22)
(285,5e-22)(285,3e-21)(285,5e-22) (315,4.4e-22)(315,2e-21)(315,4.4e-22)
(325,4.5e-22)(325,3.5e-21)(325,4.5e-22) (335,4.5e-22)(335,1.5e-21)(335,4.5e-22)
(360,4.3e-22)(360,3e-21)(360,4.3e-22) (372,4.3e-22)(372,1.5e-21)(372,4.3e-22)
(390,4.3e-22)(390,4e-21)(390,4.3e-22) (400,4.1e-22)(400,2e-21)(400,4.1e-22)
(440,3.9e-22)(440,2e-21)(440,3.9e-22) (460,3.9e-22)(460,3e-21)(460,3.9e-22)
(480,3.9e-22)(480,1.5e-21)(480,3.9e-22) (540,4.3e-22)(540,3e-21)(540,4.3e-22)
(560,4.45e-22)(560,6e-21)(560,4.45e-22) (575,4.55e-22)(575,2e-21)(575,4.55e-22)
(600,4.8e-22)(600,3e-21)(600,4.8e-22) (620,4.9e-22)(620,4e-21)(620,4.9e-22)
(640,5.2e-22)(640,2.5e-21)(640,5.2e-22) (665,5.4e-22)(665,1.5e-21)(665,5.4e-22)
(690,5.7e-22)(690,2e-21)(690,5.7e-22) (730,6.1e-22)(730,3e-21)(730,6.1e-22)
(770,6.4e-22)(770,2e-21)(770,6.4e-22) (820,6.8e-22)(820,2e-21)(820,6.8e-22)
(840,7e-22)(840,5e-21)(840,7e-22) (910,7.6e-22)(910,3e-21)(910,7.6e-22)
(940,7.9e-22)(940,1.5e-21)(940,7.9e-22) (1250,1.08e-21)(1250,3e-21)(1250,1.08e-21)
(1400,1.25e-21)(1400,2.5e-21)(1400,1.25e-21) (1650,1.5e-21)(1650,3e-21)(1650,1.5e-21)
(1800,1.8e-21)(1800,3.5e-21)(1800,1.8e-21) (2250,2.9e-21)(2250,5e-21)(2250,2.9e-21)
(2800,5e-21)(2800,8e-21)(2800,5e-21) (3300,7.5e-21)(3300,1.2e-20)(3300,7.5e-21)
(3700,9.8e-21)(3700,1.4e-20)(3700,9.8e-21)
};
\addplot[kagline, line width=0.8pt, opacity=0.95] table[x=f, y=y]{\kagline};
\addlegendentry{KAGRA}
\node[anchor=base east, inner sep=0pt, font=\carlito\itshape\fontsize{24.5}{27}\selectfont] at (rel axis cs:0.9896,0.731) {Preliminary};
\end{axis}
\pgfresetboundingbox
\path[use as bounding box] ([xshift=-61.5pt,yshift=-40pt]ax.south west) rectangle ([xshift=5pt,yshift=14.5pt]ax.north east);
\end{tikzpicture}
\end{document}
